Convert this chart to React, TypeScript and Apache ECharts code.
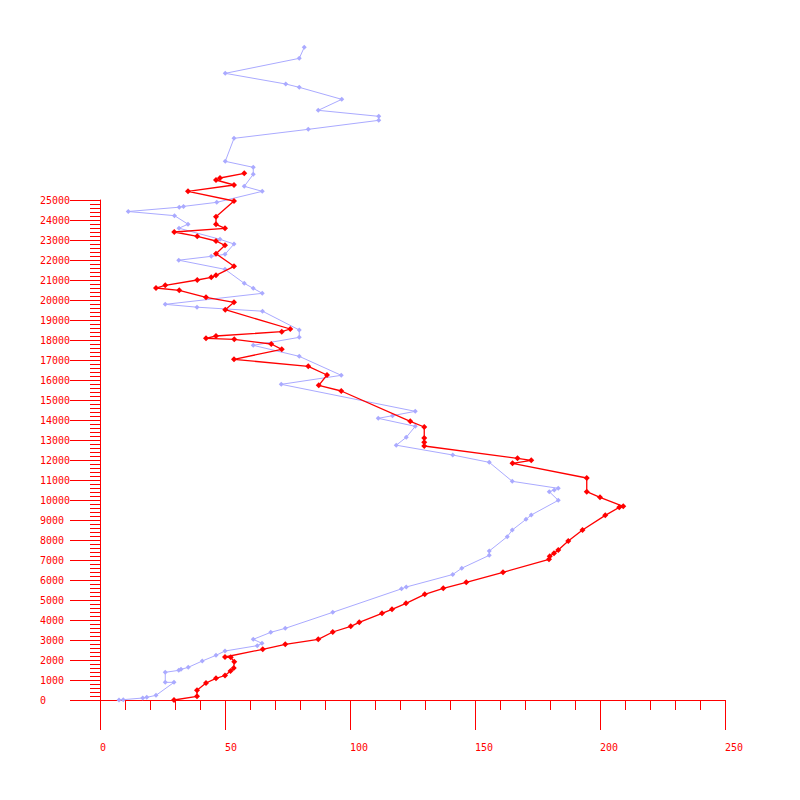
import React, { useEffect, useRef } from "react";
import * as echarts from "echarts";

const redX = [29.6, 38.8, 38.8, 42.4, 46.4, 50, 52.2, 53.5, 53.7, 52.3, 50, 65.1, 74.1, 87.3, 93.1, 100.3, 103.7, 112.8, 116.8, 122.4, 129.9, 137.3, 146.5, 161.2, 179.6, 179.9, 181.6, 183.3, 187.3, 193, 202.1, 207.7, 209.3, 200, 194.7, 194.7, 165, 172.5, 167, 129.7, 129.7, 129.7, 129.7, 124.1, 96.5, 87.5, 90.8, 83.3, 53.6, 72.7, 68.5, 53.7, 42.4, 46.4, 72.7, 76.1, 50.1, 53.6, 42.4, 31.7, 22.4, 26.1, 38.9, 44.5, 46.4, 53.6, 46.4, 50, 46.4, 38.9, 29.7, 50, 46.4, 46.4, 53.6, 35.2, 53.6, 46.4, 48, 57.7];
const redY = [0, 185, 485, 850, 1083, 1225, 1450, 1600, 1917, 2133, 2150, 2533, 2783, 3033, 3400, 3683, 3883, 4333, 4533, 4833, 5283, 5583, 5883, 6383, 7033, 7183, 7333, 7500, 7950, 8500, 9233, 9633, 9683, 10133, 10417, 11100, 11833, 11983, 12083, 12700, 12883, 13100, 13650, 13933, 15450, 15733, 16250, 16683, 17033, 17533, 17800, 18033, 18083, 18200, 18417, 18550, 19517, 19883, 20133, 20483, 20600, 20733, 21000, 21133, 21233, 21683, 22317, 22733, 22950, 23183, 23400, 23583, 23783, 24167, 24950, 25433, 25750, 26000, 26100, 26333];

const blueX = [7.6, 9.3, 17.1, 18.7, 22.4, 29.6, 26.1, 26.1, 31.5, 32.4, 35.3, 40.9, 46.4, 50, 62.9, 64.8, 61.3, 68.3, 74.1, 93.1, 120.6, 122.5, 141.1, 144.7, 155.7, 155.7, 162.9, 164.9, 170.4, 172.5, 183.3, 179.7, 181.7, 183.3, 164.9, 155.7, 141.1, 118.5, 122.5, 126.1, 111.3, 117, 126.1, 72.5, 96.5, 79.7, 61.3, 79.7, 79.7, 65, 38.8, 26.1, 64.9, 61.3, 57.7, 50, 31.5, 44.5, 50, 53.6, 48, 31.6, 35.2, 29.8, 11.3, 31.7, 33.4, 46.7, 64.9, 57.7, 61.3, 61.3, 50.1, 53.6, 83.3, 111.5, 111.5, 87.3, 96.7, 79.7, 74.3, 50.1, 79.7, 81.7];
const blueY = [0, 17, 100, 133, 233, 883, 883, 1383, 1483, 1533, 1633, 1950, 2233, 2450, 2717, 2833, 3033, 3383, 3583, 4383, 5558, 5650, 6275, 6590, 7233, 7450, 8167, 8500, 9033, 9250, 9983, 10417, 10500, 10583, 10933, 11883, 12250, 12740, 13133, 13683, 14083, 14217, 14433, 15783, 16233, 17183, 17733, 18133, 18500, 19440, 19640, 19783, 20333, 20583, 20833, 21533, 21990, 22183, 22283, 22800, 23033, 23590, 23790, 24217, 24425, 24640, 24680, 24883, 25433, 25683, 26283, 26633, 26933, 28083, 28533, 28983, 29183, 29483, 30033, 30633, 30800, 31333, 32083, 32633];

const xTicks = { min: 0, max: 250, interval: 50 };
const yTicks = { min: 0, max: 25000, interval: 1000 };

const RED = "#ff0000";
const BLUE = "#aaaaff";
const FONT = "DejaVu Sans Mono";

export default function App() {
  const ref = useRef<HTMLDivElement>(null);
  useEffect(() => {
    if (!ref.current) return;
    const chart = echarts.init(ref.current, undefined, { renderer: "svg" });
    const red = redX.map((x, i) => [x, redY[i]]);
    const blue = blueX.map((x, i) => [x, blueY[i]]);
    chart.setOption({
      animation: false,
      backgroundColor: "#ffffff",
      grid: { left: 100, right: 75, top: 200, bottom: 100, containLabel: false },
      xAxis: {
        type: "value",
        min: xTicks.min,
        max: xTicks.max,
        interval: xTicks.interval,
        axisLine: { show: true, lineStyle: { color: RED, width: 1 } },
        axisTick: { show: true, inside: false, length: 30, lineStyle: { color: RED, width: 1 } },
        minorTick: { show: true, splitNumber: 5, length: 10, lineStyle: { color: RED, width: 1 } },
        axisLabel: { color: RED, fontFamily: FONT, fontSize: 10, margin: 42, align: "left", formatter: (v: number) => String(v) },
        splitLine: { show: false },
        minorSplitLine: { show: false },
      },
      yAxis: {
        type: "value",
        min: yTicks.min,
        max: yTicks.max,
        interval: yTicks.interval,
        axisLine: { show: true, lineStyle: { color: RED, width: 1 } },
        axisTick: { show: true, inside: false, length: 30, lineStyle: { color: RED, width: 1 } },
        minorTick: { show: true, splitNumber: 5, length: 10, lineStyle: { color: RED, width: 1 } },
        axisLabel: { color: RED, fontFamily: FONT, fontSize: 10, margin: 60, align: "left", formatter: (v: number) => String(v) },
        splitLine: { show: false },
        minorSplitLine: { show: false },
      },
      series: [
        {
          type: "line",
          data: blue,
          clip: false,
          symbol: "diamond",
          symbolSize: 5,
          showAllSymbol: true,
          lineStyle: { color: BLUE, width: 1 },
          itemStyle: { color: BLUE },
          z: 2,
        },
        {
          type: "line",
          data: red,
          clip: false,
          symbol: "diamond",
          symbolSize: 6,
          showAllSymbol: true,
          lineStyle: { color: RED, width: 1.3 },
          itemStyle: { color: RED },
          z: 3,
        },
      ],
    });
    return () => chart.dispose();
  }, []);
  return (
    <div
      ref={ref}
      style={{ position: "absolute", left: 0, top: 0, width: 800, height: 800 }}
    />
  );
}
